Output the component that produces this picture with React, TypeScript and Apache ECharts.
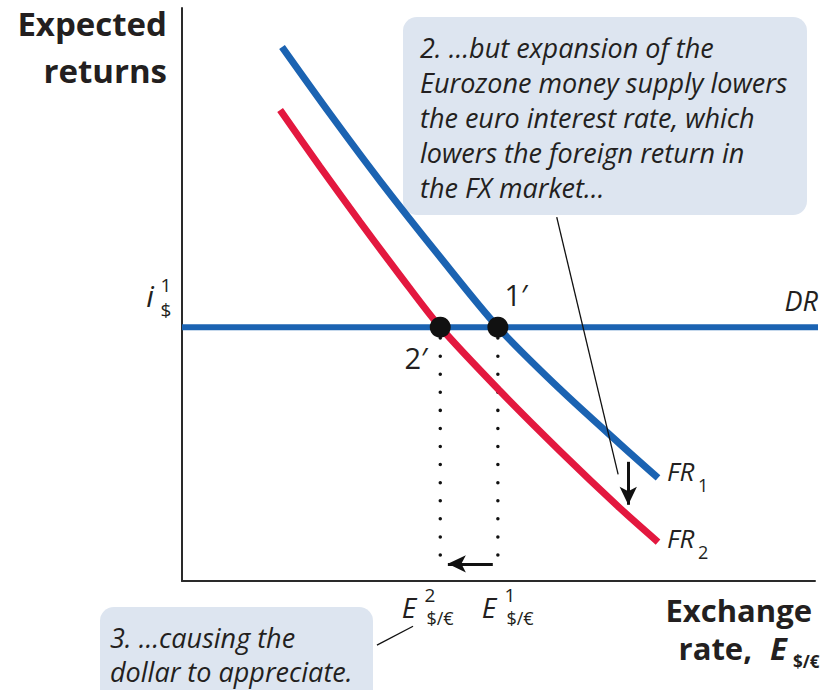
import React, { useEffect, useRef } from "react";
import * as echarts from "echarts";

const W = 835;
const H = 690;
const X_MAX = 10;
const Y_MAX = 10;

// Foreign return curves (exchange rate, expected return)
const fr1X = [1.58, 2.34, 3.13, 4.08, 4.99, 5.97, 6.92, 7.52];
const fr1Y = [9.32, 8.15, 6.98, 5.65, 4.43, 3.35, 2.39, 1.8];
const fr2X = [1.55, 2.18, 2.81, 3.44, 4.08, 5.02, 5.97, 6.92, 7.52];
const fr2Y = [8.22, 7.23, 6.27, 5.34, 4.43, 3.32, 2.27, 1.27, 0.68];

// Dollar return (horizontal)
const drLevel = 4.43;
const drX = [0, 10.08];
const drDotX = [-0.22, -2.8];

// Equilibria 1' and 2'
const eqX = [4.99, 4.08];
const eqDropY = [4.24, 0.14];

// arrows
const shiftArrowX = [4.91, 4.2];
const shiftArrowY = 0.3;
const downArrowX = 7.05;
const downArrowY = [2.08, 1.33];

// callout pointers
const pointer1X = [5.92, 6.89];
const pointer1Y = [6.35, 1.86];
const pointer2X = [3.08, 3.65];
const pointer2Y = [-1.12, -0.79];

const callout1Lines = [
  "2. \u2026but expansion of the",
  "Eurozone money supply lowers",
  "the euro interest rate, which",
  "lowers the foreign return in",
  "the FX market\u2026",
];
const callout2Lines = ["3. \u2026causing the", "dollar to appreciate."];

const BLUE = "#1b63b2";
const RED = "#e3183f";
const INK = "#231f20";
const BOX = "#dde5f0";
const FONT = "'Open Sans', 'DejaVu Sans', sans-serif";

const zip = (xs: number[], ys: number[]) => xs.map((x, i) => [x, ys[i]]);

function txt(
  text: string,
  x: number,
  y: number,
  size: number,
  opts: { italic?: boolean; bold?: boolean; align?: string } = {}
) {
  return {
    type: "text",
    x,
    y,
    z: 100,
    silent: true,
    style: {
      text,
      fontSize: size,
      lineHeight: Math.round(size * 0.9),
      fontFamily: FONT,
      fontStyle: opts.italic ? "italic" : "normal",
      fontWeight: opts.bold ? "bold" : "normal",
      fill: INK,
      align: opts.align || "left",
      verticalAlign: "middle",
    },
  };
}

export default function App() {
  const ref = useRef<HTMLDivElement>(null);
  useEffect(() => {
    document.body.style.margin = "0";
    if (!ref.current) return;
    const chart = echarts.init(ref.current, null, { renderer: "svg" });

    const dotted = (color: string, width: number, gap: number) => ({
      color,
      width,
      type: [0.01, gap],
      cap: "round",
    });

    const series: any[] = [
      {
        type: "line",
        data: zip(drX, [drLevel, drLevel]),
        symbol: "none",
        clip: false,
        z: 2,
        lineStyle: { color: BLUE, width: 6 },
      },
      {
        type: "line",
        data: zip(drDotX, [drLevel, drLevel]),
        symbol: "none",
        clip: false,
        z: 2,
        lineStyle: dotted(BLUE, 4, 18.1),
      },
      ...eqX.map((x) => ({
        type: "line",
        data: zip([x, x], eqDropY),
        symbol: "none",
        clip: false,
        z: 2,
        lineStyle: dotted("#111", 3.5, 18.07),
      })),
      {
        type: "line",
        data: zip(fr2X, fr2Y),
        smooth: 0.3,
        symbol: "none",
        clip: false,
        z: 3,
        lineStyle: { color: RED, width: 7, cap: "butt" },
      },
      {
        type: "line",
        data: zip(fr1X, fr1Y),
        smooth: 0.3,
        symbol: "none",
        clip: false,
        z: 3,
        lineStyle: { color: BLUE, width: 7, cap: "butt" },
      },
      {
        type: "line",
        data: zip(pointer1X, pointer1Y),
        symbol: "none",
        clip: false,
        z: 4,
        lineStyle: { color: "#111", width: 1.3 },
      },
      {
        type: "line",
        data: zip(pointer2X, pointer2Y),
        symbol: "none",
        clip: false,
        z: 4,
        lineStyle: { color: "#111", width: 1.3 },
      },
      {
        type: "line",
        data: [],
        z: 5,
        markLine: {
          silent: true,
          symbol: ["none", "arrow"],
          symbolSize: [13, 18],
          label: { show: false },
          lineStyle: { color: "#111", width: 3, type: "solid" },
          emphasis: { disabled: true },
          data: [
            [
              { coord: [shiftArrowX[0], shiftArrowY] },
              { coord: [shiftArrowX[1], shiftArrowY] },
            ],
            [
              { coord: [downArrowX, downArrowY[0]] },
              { coord: [downArrowX, downArrowY[1]] },
            ],
          ],
        },
      },
      {
        type: "scatter",
        data: eqX.map((x) => [x, drLevel]),
        symbolSize: 21,
        clip: false,
        z: 6,
        itemStyle: { color: "#111", opacity: 1 },
      },
    ];

    const graphic: any[] = [
      {
        type: "rect",
        z: 0,
        silent: true,
        shape: { x: 403, y: 17, width: 404, height: 198, r: 14 },
        style: { fill: BOX },
      },
      {
        type: "rect",
        z: 0,
        silent: true,
        shape: { x: 100, y: 607, width: 273, height: 110, r: 14 },
        style: { fill: BOX },
      },
      ...callout1Lines.map((l, i) => txt(l, 420, 47 + i * 35, 27, { italic: true })),
      ...callout2Lines.map((l, i) => txt(l, 110, 637 + i * 34, 27, { italic: true })),
      txt("Expected", 167, 23, 33, { bold: true, align: "right" }),
      txt("returns", 167, 70, 33, { bold: true, align: "right" }),
      txt("Exchange", 812, 610, 31, { bold: true, align: "right" }),
      txt("rate,", 752, 648, 31, { bold: true, align: "right" }),
      txt("E", 770, 648, 31, { bold: true, italic: true }),
      txt("$/\u20ac", 793, 661, 17, { bold: true }),
      txt("i", 150, 295, 30, { italic: true, align: "center" }),
      txt("1", 166, 285, 19, { align: "center" }),
      txt("$", 166, 310, 19, { align: "center" }),
      txt("DR", 818, 300, 27, { italic: true, align: "right" }),
      txt("FR", 667, 471, 26, { italic: true }),
      txt("1", 698, 485, 18),
      txt("FR", 667, 538, 26, { italic: true }),
      txt("2", 698, 552, 18),
      txt("1\u2032", 516, 294, 29, { align: "center" }),
      txt("2\u2032", 416, 357, 29, { align: "center" }),
      txt("E", 409, 607, 28, { italic: true, align: "center" }),
      txt("2", 430, 595, 19, { align: "center" }),
      txt("$/\u20ac", 440, 618, 18, { align: "center" }),
      txt("E", 489, 607, 28, { italic: true, align: "center" }),
      txt("1", 510, 595, 19, { align: "center" }),
      txt("$/\u20ac", 520, 618, 18, { align: "center" }),
    ];

    chart.setOption({
      animation: false,
      grid: { left: 182, right: W - 815, top: 8, bottom: H - 581 },
      xAxis: {
        type: "value",
        min: 0,
        max: X_MAX,
        axisLine: { show: true, onZero: false, lineStyle: { color: "#2a2a2a", width: 2 } },
        axisTick: { show: false },
        axisLabel: { show: false },
        splitLine: { show: false },
      },
      yAxis: {
        type: "value",
        min: 0,
        max: Y_MAX,
        axisLine: { show: true, onZero: false, lineStyle: { color: "#2a2a2a", width: 2 } },
        axisTick: { show: false },
        axisLabel: { show: false },
        splitLine: { show: false },
      },
      tooltip: { show: false },
      series,
      graphic,
    });
    return () => chart.dispose();
  }, []);
  return <div ref={ref} style={{ width: W, height: H, background: "#fff" }} />;
}
